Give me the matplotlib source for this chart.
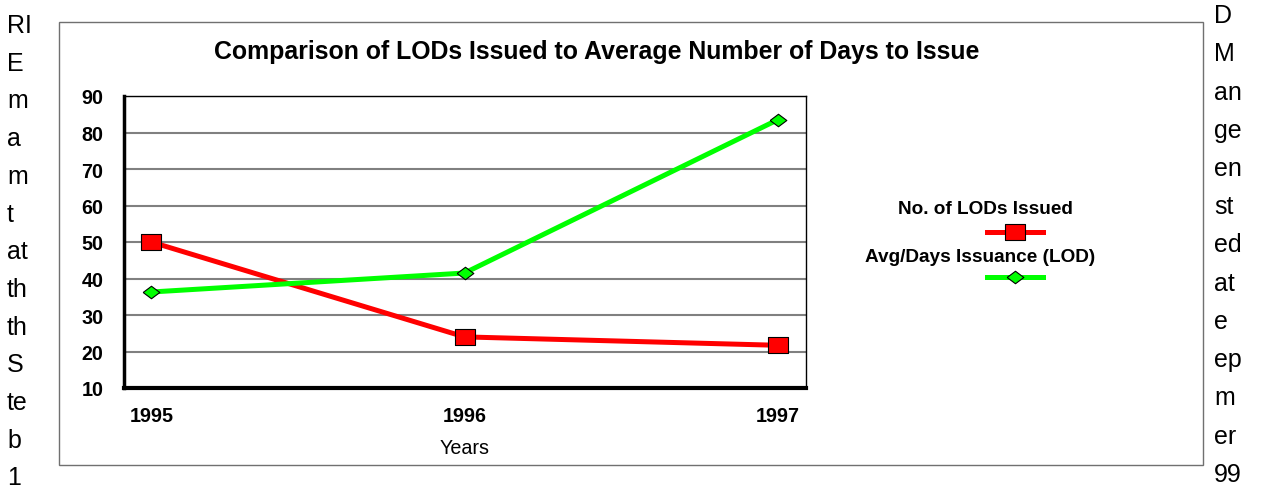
import matplotlib.pyplot as plt
from matplotlib.patches import Rectangle
from matplotlib.lines import Line2D

plt.rcParams["font.family"] = ["Liberation Sans", "DejaVu Sans"]

years = ["1995", "1996", "1997"]
lods_issued = [50, 24, 21.7]
avg_days = [36.3, 41.5, 83.5]
y_ticks = [10, 20, 30, 40, 50, 60, 70, 80, 90]

left_words = ["RI", "E", "m", "a", "m", "t", "at", "th", "th", "S", "te", "b", "1"]
right_words = ["D", "M", "an", "ge", "en", "st", "ed", "at", "e", "ep", "m", "er", "99"]

W, H = 1265, 489
RED = "#ff0000"
GREEN = "#00ff00"
rect_marker = [(-1, -0.8), (1, -0.8), (1, 0.8), (-1, 0.8), (-1, -0.8)]
diamond_marker = [(-1, 0), (0, 0.75), (1, 0), (0, -0.75), (-1, 0)]

fig = plt.figure(figsize=(W / 100, H / 100), dpi=100)


def fx(px):
    return px / W


def fy(py):
    return 1 - py / H


# page border around the chart
fig.patches.append(Rectangle((fx(59), fy(466)), fx(1203) - fx(59), fy(23) - fy(466),
                             transform=fig.transFigure, fill=False,
                             edgecolor="#707070", linewidth=1))

# page text fragments on both sides
for i, w in enumerate(left_words):
    fig.text(fx(7), fy(33 + 37.7 * i), w, fontsize=18, va="baseline", ha="left")
for i, w in enumerate(right_words):
    fig.text(fx(1214), fy(23 + 38.25 * i), w, fontsize=18, va="baseline", ha="left")

ax = fig.add_axes([fx(124), fy(389), fx(806) - fx(124), fy(97) - fy(389)])
x = range(len(years))

ax.plot(x, lods_issued, color=RED, linewidth=3.6, marker=rect_marker,
        markersize=14, markerfacecolor=RED, markeredgecolor="black",
        markeredgewidth=0.8, zorder=3)
ax.plot(x, avg_days, color=GREEN, linewidth=3.6, marker=diamond_marker,
        markersize=12, markerfacecolor=GREEN, markeredgecolor="black",
        markeredgewidth=0.8, zorder=3)

ax.set_ylim(10, 90)
ax.set_xlim(-0.087, 2.09)
ax.set_yticks(y_ticks)
ax.set_xticks(list(x))
ax.set_xticklabels(years)
ax.tick_params(axis="both", length=0, labelsize=14.2)
ax.tick_params(axis="y", pad=15)
ax.tick_params(axis="x", pad=13)
for lab in ax.get_xticklabels() + ax.get_yticklabels():
    lab.set_fontweight("bold")
ax.yaxis.grid(True, color="#808080", linewidth=1.5)
ax.set_axisbelow(True)

ax.spines["left"].set_linewidth(2.5)
ax.spines["bottom"].set_linewidth(3)
ax.spines["top"].set_linewidth(1)
ax.spines["right"].set_linewidth(1)

ax.set_xlabel("Years", fontsize=14.2, labelpad=9)

fig.text(fx(597), fy(52), "Comparison of LODs Issued to Average Number of Days to Issue",
         fontsize=17.9, fontweight="bold", ha="center", va="center")

# legend drawn by hand to keep its stacked layout
fig.text(fx(985), fy(210), "No. of LODs Issued", fontsize=13.7, fontweight="bold",
         ha="center", va="center")
fig.lines.append(Line2D([fx(987), fx(1015), fx(1043)], [fy(233)] * 3, transform=fig.transFigure,
                        color=RED, linewidth=3.6, marker=rect_marker, markevery=[1],
                        markersize=14, markerfacecolor=RED, markeredgecolor="black",
                        markeredgewidth=0.8))
fig.text(fx(980), fy(257), "Avg/Days Issuance (LOD)", fontsize=13.7, fontweight="bold",
         ha="center", va="center")
fig.lines.append(Line2D([fx(987), fx(1015), fx(1043)], [fy(278)] * 3, transform=fig.transFigure,
                        color=GREEN, linewidth=3.6, marker=diamond_marker, markevery=[1],
                        markersize=12, markerfacecolor=GREEN, markeredgecolor="black",
                        markeredgewidth=0.8))

fig.savefig("out.png", dpi=100)
